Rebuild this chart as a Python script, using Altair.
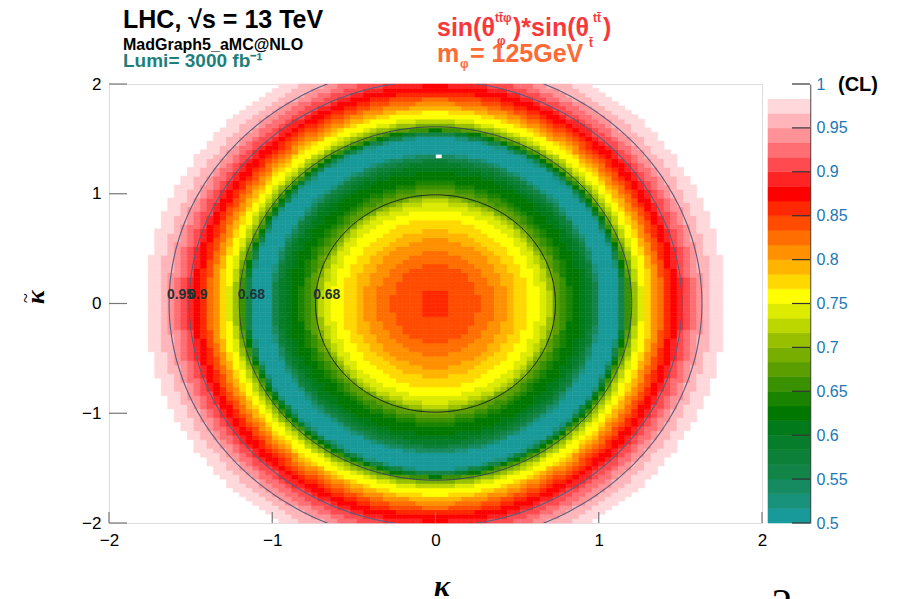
import altair as alt
import numpy as np
import pandas as pd

# ------------------------------------------------------------------ data
# CL value of each ring (read along the kappa axis, kappa_tilde = 0),
# ring_outer_r = outer radius (in kappa units) of the ring with that CL value
ring_outer_r = [0.10, 0.265, 0.357, 0.437, 0.50, 0.57, 0.633, 0.676, 0.705, 0.72,
                0.735, 0.77, 0.80, 0.83, 0.89, 0.93, 0.955, 0.975, 0.99, 1.005,
                1.02, 1.125, 1.14, 1.155, 1.167, 1.18, 1.192, 1.203, 1.215, 1.23,
                1.245, 1.265, 1.30, 1.32, 1.34, 1.365, 1.39, 1.415, 1.44, 1.48,
                1.509, 1.55, 1.59, 1.632, 1.69, 1.77]
ring_cl = [0.858, 0.842, 0.825, 0.808, 0.792, 0.775, 0.758, 0.742, 0.725, 0.708,
           0.692, 0.675, 0.658, 0.642, 0.625, 0.608, 0.592, 0.575, 0.558, 0.542,
           0.525, 0.508, 0.525, 0.558, 0.592, 0.625, 0.658, 0.675, 0.692, 0.708,
           0.725, 0.742, 0.758, 0.775, 0.792, 0.808, 0.825, 0.842, 0.858, 0.875,
           0.892, 0.908, 0.925, 0.942, 0.958, 0.975]
ring_aspect = 1.34          # kappa_tilde / kappa radius ratio of the rings
n_bins = 100                # histogram bins per axis on [-2, 2]
empty_cells = [(0.02, 1.34)]

# colour bands of the palette (0.5 -> 1.0, 30 bands)
band_colors = ["#199a9a", "#18927a", "#168a60", "#128448", "#0c8038", "#067d2a",
               "#007a1a", "#007800", "#1a8400", "#3a9100", "#5a9e00", "#78ae00",
               "#98c000", "#bcd600", "#dceb00", "#ffff00", "#ffd800", "#ffb400",
               "#ff9000", "#ff6e00", "#ff4c00", "#ff2800", "#ff0000", "#ff2424",
               "#ff4a4f", "#ff6e73", "#ff9297", "#ffb5b9", "#ffd8db", "#ffffff"]
cbar_ticks = [0.5, 0.55, 0.6, 0.65, 0.7, 0.75, 0.8, 0.85, 0.9, 0.95, 1.0]

# contours
contour_level = ["0.68", "0.68", "0.9", "0.95"]
contour_rk = [0.735, 1.202, 1.509, 1.632]
contour_rkt = [0.99, 1.61, 2.03, 2.19]
contour_label_text = ["0.95", "0.9", "0.68", "0.68"]
contour_label_k = [-1.562, -1.456, -1.128, -0.666]
contour_label_kt = [0.077, 0.077, 0.077, 0.077]

axis_ticks = [-2, -1, 0, 1, 2]

# ------------------------------------------------------------------ tables
edges = np.linspace(-2, 2, n_bins + 1)
rows = []
for i in range(n_bins):
    for j in range(n_bins):
        k0, k1 = edges[i], edges[i + 1]
        t0, t1 = edges[j], edges[j + 1]
        kc, tc = (k0 + k1) / 2, (t0 + t1) / 2
        if any(k0 <= ek < k1 and t0 <= et < t1 for ek, et in empty_cells):
            continue
        rho = np.hypot(kc, tc / ring_aspect)
        idx = int(np.searchsorted(ring_outer_r, rho, side="right"))
        if idx >= len(ring_outer_r):
            continue
        rows.append({"k0": round(k0, 4), "k1": round(k1, 4),
                     "t0": round(t0, 4), "t1": round(t1, 4), "cl": ring_cl[idx]})
heat_df = pd.DataFrame(rows)

cont_rows = []
theta = np.linspace(0, 2 * np.pi, 361)
for c, (rk, rkt) in enumerate(zip(contour_rk, contour_rkt)):
    for n, th in enumerate(theta):
        cont_rows.append({"cid": c, "i": n, "k": rk * np.cos(th), "kt": rkt * np.sin(th)})
cont_df = pd.DataFrame(cont_rows)

lab_df = pd.DataFrame({"t": contour_label_text, "k": contour_label_k, "kt": contour_label_kt})
ticks_df = pd.DataFrame({"v": axis_ticks})

n_bands = len(band_colors)
cb_df = pd.DataFrame({
    "lo": [0.5 + 0.5 * b / n_bands for b in range(n_bands)],
    "hi": [0.5 + 0.5 * (b + 1) / n_bands for b in range(n_bands)],
})
cb_df["mid"] = (cb_df["lo"] + cb_df["hi"]) / 2
cbt_df = pd.DataFrame({"v": cbar_ticks})

# ------------------------------------------------------------------ chart
W, H = 653, 439
FONT = "Liberation Sans"
xscale = alt.Scale(domain=[-2, 2], nice=False, zero=False)
yscale = alt.Scale(domain=[-2, 2], nice=False, zero=False)
cscale = alt.Scale(type="quantize", domain=[0.5, 1.0], range=band_colors, nice=False)
cbscale = alt.Scale(domain=[0.5, 1.0], nice=False, zero=False)

common_axis = dict(tickSize=0, domain=False, grid=False, labelFontSize=17,
                   labelColor="black", title=None, labelFlush=False,
                   labelOverlap=False, format="~g", values=axis_ticks, labelFont=FONT)

heat = alt.Chart(heat_df).mark_rect(strokeWidth=0.6).encode(
    x=alt.X("k0:Q", scale=xscale, axis=alt.Axis(labelPadding=9, **common_axis)),
    x2="k1:Q",
    y=alt.Y("t0:Q", scale=yscale, axis=alt.Axis(labelPadding=8, **common_axis)),
    y2="t1:Q",
    color=alt.Color("cl:Q", scale=cscale, legend=None),
    stroke=alt.Stroke("cl:Q", scale=cscale, legend=None),
)

def contour_layer(ids, color, width):
    return alt.Chart(cont_df[cont_df["cid"].isin(ids)]).mark_line(
        clip=True, color=color, strokeWidth=width).encode(
        x=alt.X("k:Q", scale=xscale),
        y=alt.Y("kt:Q", scale=yscale),
        detail="cid:N",
        order="i:Q",
    )

c_outer = contour_layer([2, 3], "#56617f", 1.1)
c_mid = contour_layer([1], "#3c4652", 1.0)
c_inner = contour_layer([0], "#1c241c", 1.0)

labels = alt.Chart(lab_df).mark_text(fontSize=14, fontWeight="bold", color="#1e3434",
                                     font=FONT).encode(
    x=alt.X("k:Q", scale=xscale), y=alt.Y("kt:Q", scale=yscale), text="t:N")

xticks = alt.Chart(ticks_df).mark_rule(color="#777777", strokeWidth=1.2).encode(
    x=alt.X("v:Q", scale=xscale), y=alt.value(H), y2=alt.value(H - 11))
yticks = alt.Chart(ticks_df).mark_rule(color="#777777", strokeWidth=1.2).encode(
    y=alt.Y("v:Q", scale=yscale), x=alt.value(0), x2=alt.value(18))

one = pd.DataFrame({"a": [0]})

def txt(text, x, y, size, color="black", weight="bold", font=FONT, style="normal",
        align="left", baseline="alphabetic", angle=None):
    kw = dict(text=text, x=x, y=y, fontSize=size, color=color, fontWeight=weight,
              font=font, fontStyle=style, align=align, baseline=baseline)
    if angle is not None:
        kw["angle"] = angle
    return alt.Chart(one).mark_text(**kw)

RED = "#fa383c"
ORANGE = "#ff6a35"
TEAL = "#1f7f7b"
annotations = [
    txt("LHC, √s = 13 TeV", 14, -56, 25),
    txt("MadGraph5_aMC@NLO", 14, -34, 16),
    txt("Lumi= 3000 fb⁻¹", 14, -17, 19, color=TEAL),
    txt("sin(θ", 328, -48, 25, color=RED),
    txt("tt̄φ", 386, -62, 12, color=RED),
    txt("φ", 388, -39, 12, color=RED),
    txt(")*sin(θ", 404, -48, 25, color=RED),
    txt("tt̄", 484, -62, 12, color=RED),
    txt("t̄", 480, -37, 12, color=RED),
    txt(")", 494, -48, 25, color=RED),
    txt("m", 328, -22, 25, color=ORANGE),
    txt("φ", 351, -16, 12, color=ORANGE),
    txt("= 125GeV", 361, -22, 25, color=ORANGE),
    txt("(CL)", 729, 7, 20),
    txt("κ", 333, 512, 30, font="Liberation Serif", style="italic", align="center"),
    txt("κ", -73, 213, 26, font="Liberation Serif", style="italic", align="center",
        baseline="middle", angle=270),
    txt("~", -82, 214, 18, weight="normal", font="Liberation Serif", align="center",
        baseline="middle", angle=270),
    txt("2", 673, 534, 42, weight="normal", font="Liberation Serif", align="center"),
]

main = alt.layer(heat, c_outer, c_mid, c_inner, labels, xticks, yticks, *annotations)

cbar = alt.Chart(cb_df).mark_rect(strokeWidth=0.6).encode(
    x=alt.value(659), x2=alt.value(701),
    y=alt.Y("lo:Q", scale=cbscale,
            axis=alt.Axis(orient="right", offset=48, values=cbar_ticks, format="~g",
                          tickSize=0, domainColor="#444444", domainWidth=1.5,
                          labelColor="#2277b5", labelFontSize=16, labelPadding=6,
                          labelFont=FONT, grid=False, title=None, labelFlush=False,
                          labelOverlap=False)),
    y2="hi:Q",
    color=alt.Color("mid:Q", scale=cscale, legend=None),
    stroke=alt.Stroke("mid:Q", scale=cscale, legend=None),
)
cbar_ticks_layer = alt.Chart(cbt_df).mark_rule(color="#333333", strokeWidth=1.2).encode(
    y=alt.Y("v:Q", scale=cbscale), x=alt.value(683), x2=alt.value(701))

cbar_layer = alt.layer(cbar, cbar_ticks_layer)

chart = alt.layer(main, cbar_layer).resolve_scale(y="independent").properties(
    width=W, height=H,
    autosize=alt.AutoSizeParams(type="none"),
    padding={"left": 109, "top": 84, "right": 135, "bottom": 76},
).configure_view(stroke="#8a8a8a", strokeWidth=1.5).configure(font=FONT)

chart.save("out.html", embed_options={"renderer": "svg", "actions": False})
